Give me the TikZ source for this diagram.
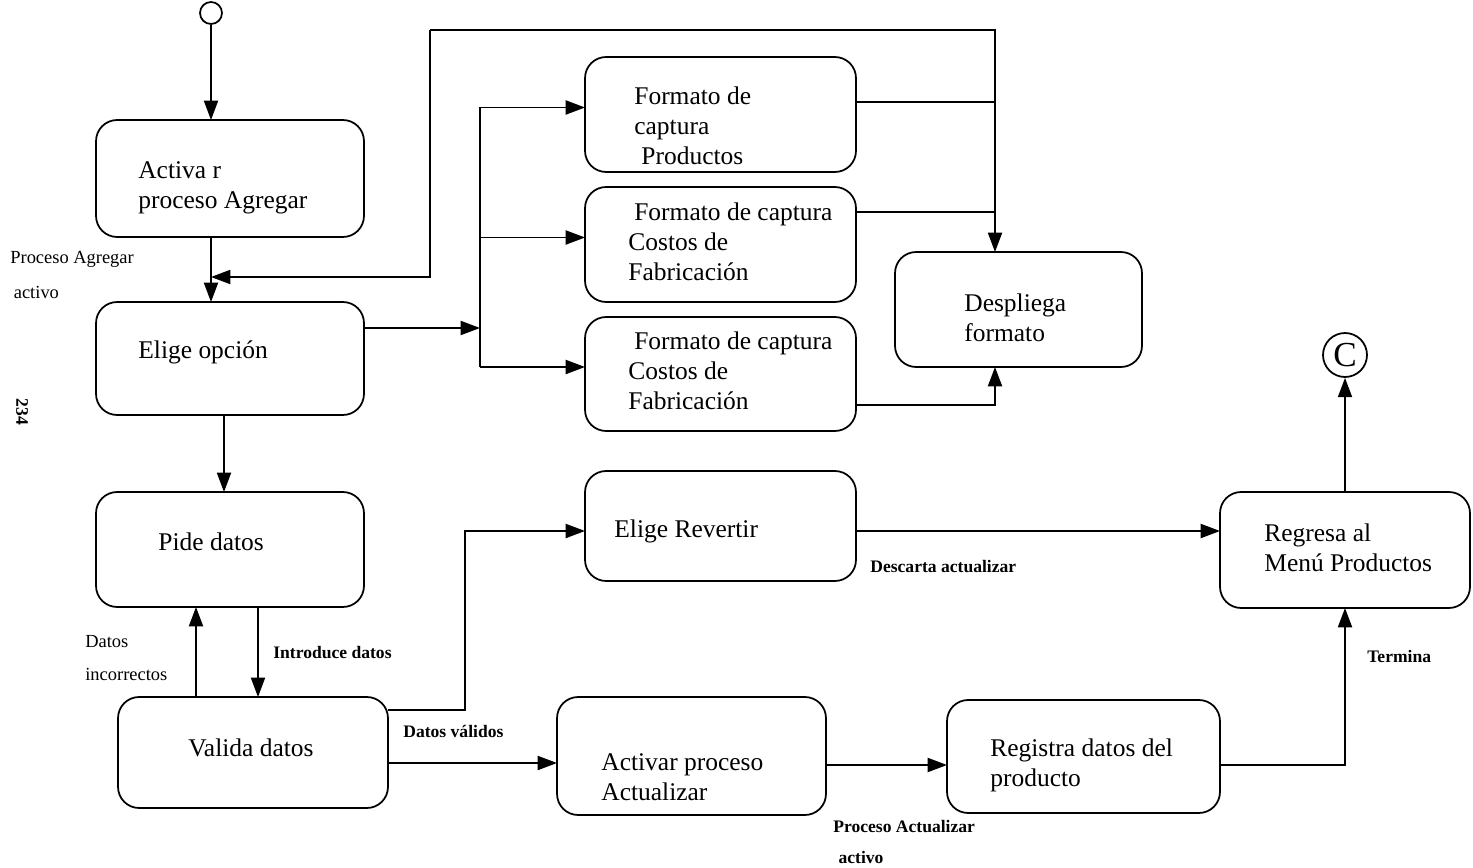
\documentclass[tikz,border=0pt]{standalone}
\usepackage{fontspec}
\setmainfont{Liberation Serif}
\usepackage{tikz}
\usetikzlibrary{arrows.meta,positioning,calc}

\tikzset{
  box/.style={draw, line width=1pt, rounded corners=12pt, outer sep=0pt},
  txt/.style={anchor=west, inner sep=0pt, align=left, font=\fontsize{14.5}{17}\selectfont},
  lbl/.style={anchor=west, inner sep=0pt, align=left, font=\fontsize{10}{19}\selectfont\bfseries},
  arr/.style={line width=1pt, -{Triangle[length=11pt,width=8pt]}},
  ln/.style={line width=1pt}
}

\begin{document}
\begin{tikzpicture}[x=0.02cm, y=-0.02cm]
\useasboundingbox (0,0) rectangle (1473,868);
% connectors (start / end)
\node[draw, circle, line width=1pt, minimum size=0.44cm, inner sep=0pt] (start) at (211,13) {};
\node[draw, circle, line width=1pt, minimum size=0.88cm, inner sep=0pt,
      font=\fontsize{20}{20}\selectfont] (cC) at (1345,355) {C};
\node[font=\fontsize{10}{10}\selectfont\bfseries, rotate=-90] (pg) at (22,412) {234};

% left column
\node[box, minimum width=5.36cm, minimum height=2.34cm] (act) at (230,178.5) {};
\node[box, minimum width=5.36cm, minimum height=2.26cm] (elige) at (230,358.5) {};
\node[box, minimum width=5.36cm, minimum height=2.30cm] (pide) at (230,549.5) {};
\node[box, minimum width=5.40cm, minimum height=2.22cm] (valida) at (253,752.5) {};
\node[txt] (act-t) at (138,188) {Activa r\\proceso Agregar};
\node[txt] (elige-t) at (138,352) {Elige opción};
\node[txt] (pide-t) at (158,542) {Pide datos};
\node[txt] (valida-t) at (188,748) {Valida datos};

% capture formats
\node[box, minimum width=5.42cm, minimum height=2.30cm] (fprod) at (720.5,114.5) {};
\node[box, minimum width=5.42cm, minimum height=2.30cm] (fcost) at (720.5,244.5) {};
\node[box, minimum width=5.42cm, minimum height=2.28cm] (ffab) at (720.5,374) {};
\node[box, minimum width=4.94cm, minimum height=2.30cm] (despl) at (1018.5,309.5) {};
\node[txt] (fprod-t) at (634,126) {Formato de\\captura\\\hspace{4pt}Productos};
\node[txt] (fcost-t) at (628,242) {\hspace{3.4pt}Formato de captura\\Costos de\\Fabricación};
\node[txt] (ffab-t) at (628,371) {\hspace{3.4pt}Formato de captura\\Costos de\\Fabricación};
\node[txt] (despl-t) at (964,318) {Despliega\\formato};

% lower row
\node[box, minimum width=5.42cm, minimum height=2.20cm] (rev) at (720.5,526) {};
\node[box, minimum width=5.38cm, minimum height=2.36cm] (actu) at (691.5,756) {};
\node[box, minimum width=5.46cm, minimum height=2.26cm] (reg) at (1083.5,756.5) {};
\node[box, minimum width=5.00cm, minimum height=2.32cm] (menu) at (1345,550) {};
\node[txt] (rev-t) at (614,531) {Elige Revertir};
\node[txt] (actu-t) at (601,777) {Activar proceso\\Actualizar};
\node[txt] (reg-t) at (990,765) {Registra datos del\\producto};
\node[txt] (menu-t) at (1264,548) {Regresa al\\Menú Productos};

% helper points
\coordinate (lp) at (430,30);
\coordinate (tp) at (995,30);
\coordinate (jn) at (211,277);
\coordinate (fk) at (480,328);
\coordinate (vb) at (465,531);

% arrows
\draw[arr] (start.south) -- (start.south |- act.north);
\draw[arr] (act.south -| start.south) -- (elige.north -| start.south);
\draw[arr] (lp) |- (jn);
\draw[arr] (lp) -- (tp) -- (tp |- despl.north);
\draw[ln] ([yshift=0.25cm]fprod.east) -- ([yshift=0.25cm]fprod.east -| tp);
\draw[ln] ([yshift=0.65cm]fcost.east) -- ([yshift=0.65cm]fcost.east -| tp);
\draw[arr] ([yshift=-0.62cm]ffab.east) -| (tp |- despl.south);
\draw[arr] ([yshift=0.61cm]elige.east) -- (fk);
\draw[ln] ([yshift=0.14cm]fk |- fprod.west) -- ([yshift=0.14cm]fk |- ffab.west);
\draw[arr] ([yshift=0.14cm]fk |- fprod.west) -- ([yshift=0.14cm]fprod.west);
\draw[arr] ([yshift=0.14cm]fk |- fcost.west) -- ([yshift=0.14cm]fcost.west);
\draw[arr] ([yshift=0.14cm]fk |- ffab.west) -- ([yshift=0.14cm]ffab.west);
\draw[arr] ([xshift=-0.12cm]elige.south) -- ([xshift=-0.12cm]pide.north);
\draw[arr] ([xshift=0.56cm]pide.south) -- ([xshift=0.56cm]pide.south |- valida.north);
\draw[arr] ([xshift=-0.68cm]pide.south |- valida.north) -- ([xshift=-0.68cm]pide.south);
\draw[arr] ([yshift=0.85cm]valida.east) -| (vb) -- (rev.west |- vb);
\draw[arr] ([yshift=-0.21cm]valida.east) -- ([yshift=-0.21cm]valida.east -| actu.west);
\draw[arr] ([yshift=-0.18cm]actu.east) -- ([yshift=-0.18cm]actu.east -| reg.west);
\draw[arr] ([yshift=-0.1cm]rev.east) -- ([yshift=-0.1cm]rev.east -| menu.west);
\draw[arr] ([yshift=-0.17cm]reg.east) -| (menu.south);
\draw[arr] (menu.north) -- (cC.south);

% labels on the arrows
\node[lbl, font=\fontsize{10.5}{20}\selectfont] (l-agr) at (10,275) {Proceso Agregar\\\hspace{2pt}activo};
\node[lbl, font=\fontsize{10.5}{19}\selectfont] (l-inc) at (85,658) {Datos\\incorrectos};
\node[lbl] (l-int) at (273,653) {Introduce datos};
\node[lbl] (l-val) at (403,731) {Datos válidos};
\node[lbl] (l-des) at (870,567) {Descarta actualizar};
\node[lbl, font=\fontsize{10}{17.6}\selectfont\bfseries] (l-act) at (833,842) {Proceso Actualizar\\\hspace{3pt}activo};
\node[lbl] (l-ter) at (1367,656) {Termina};
\end{tikzpicture}
\end{document}
